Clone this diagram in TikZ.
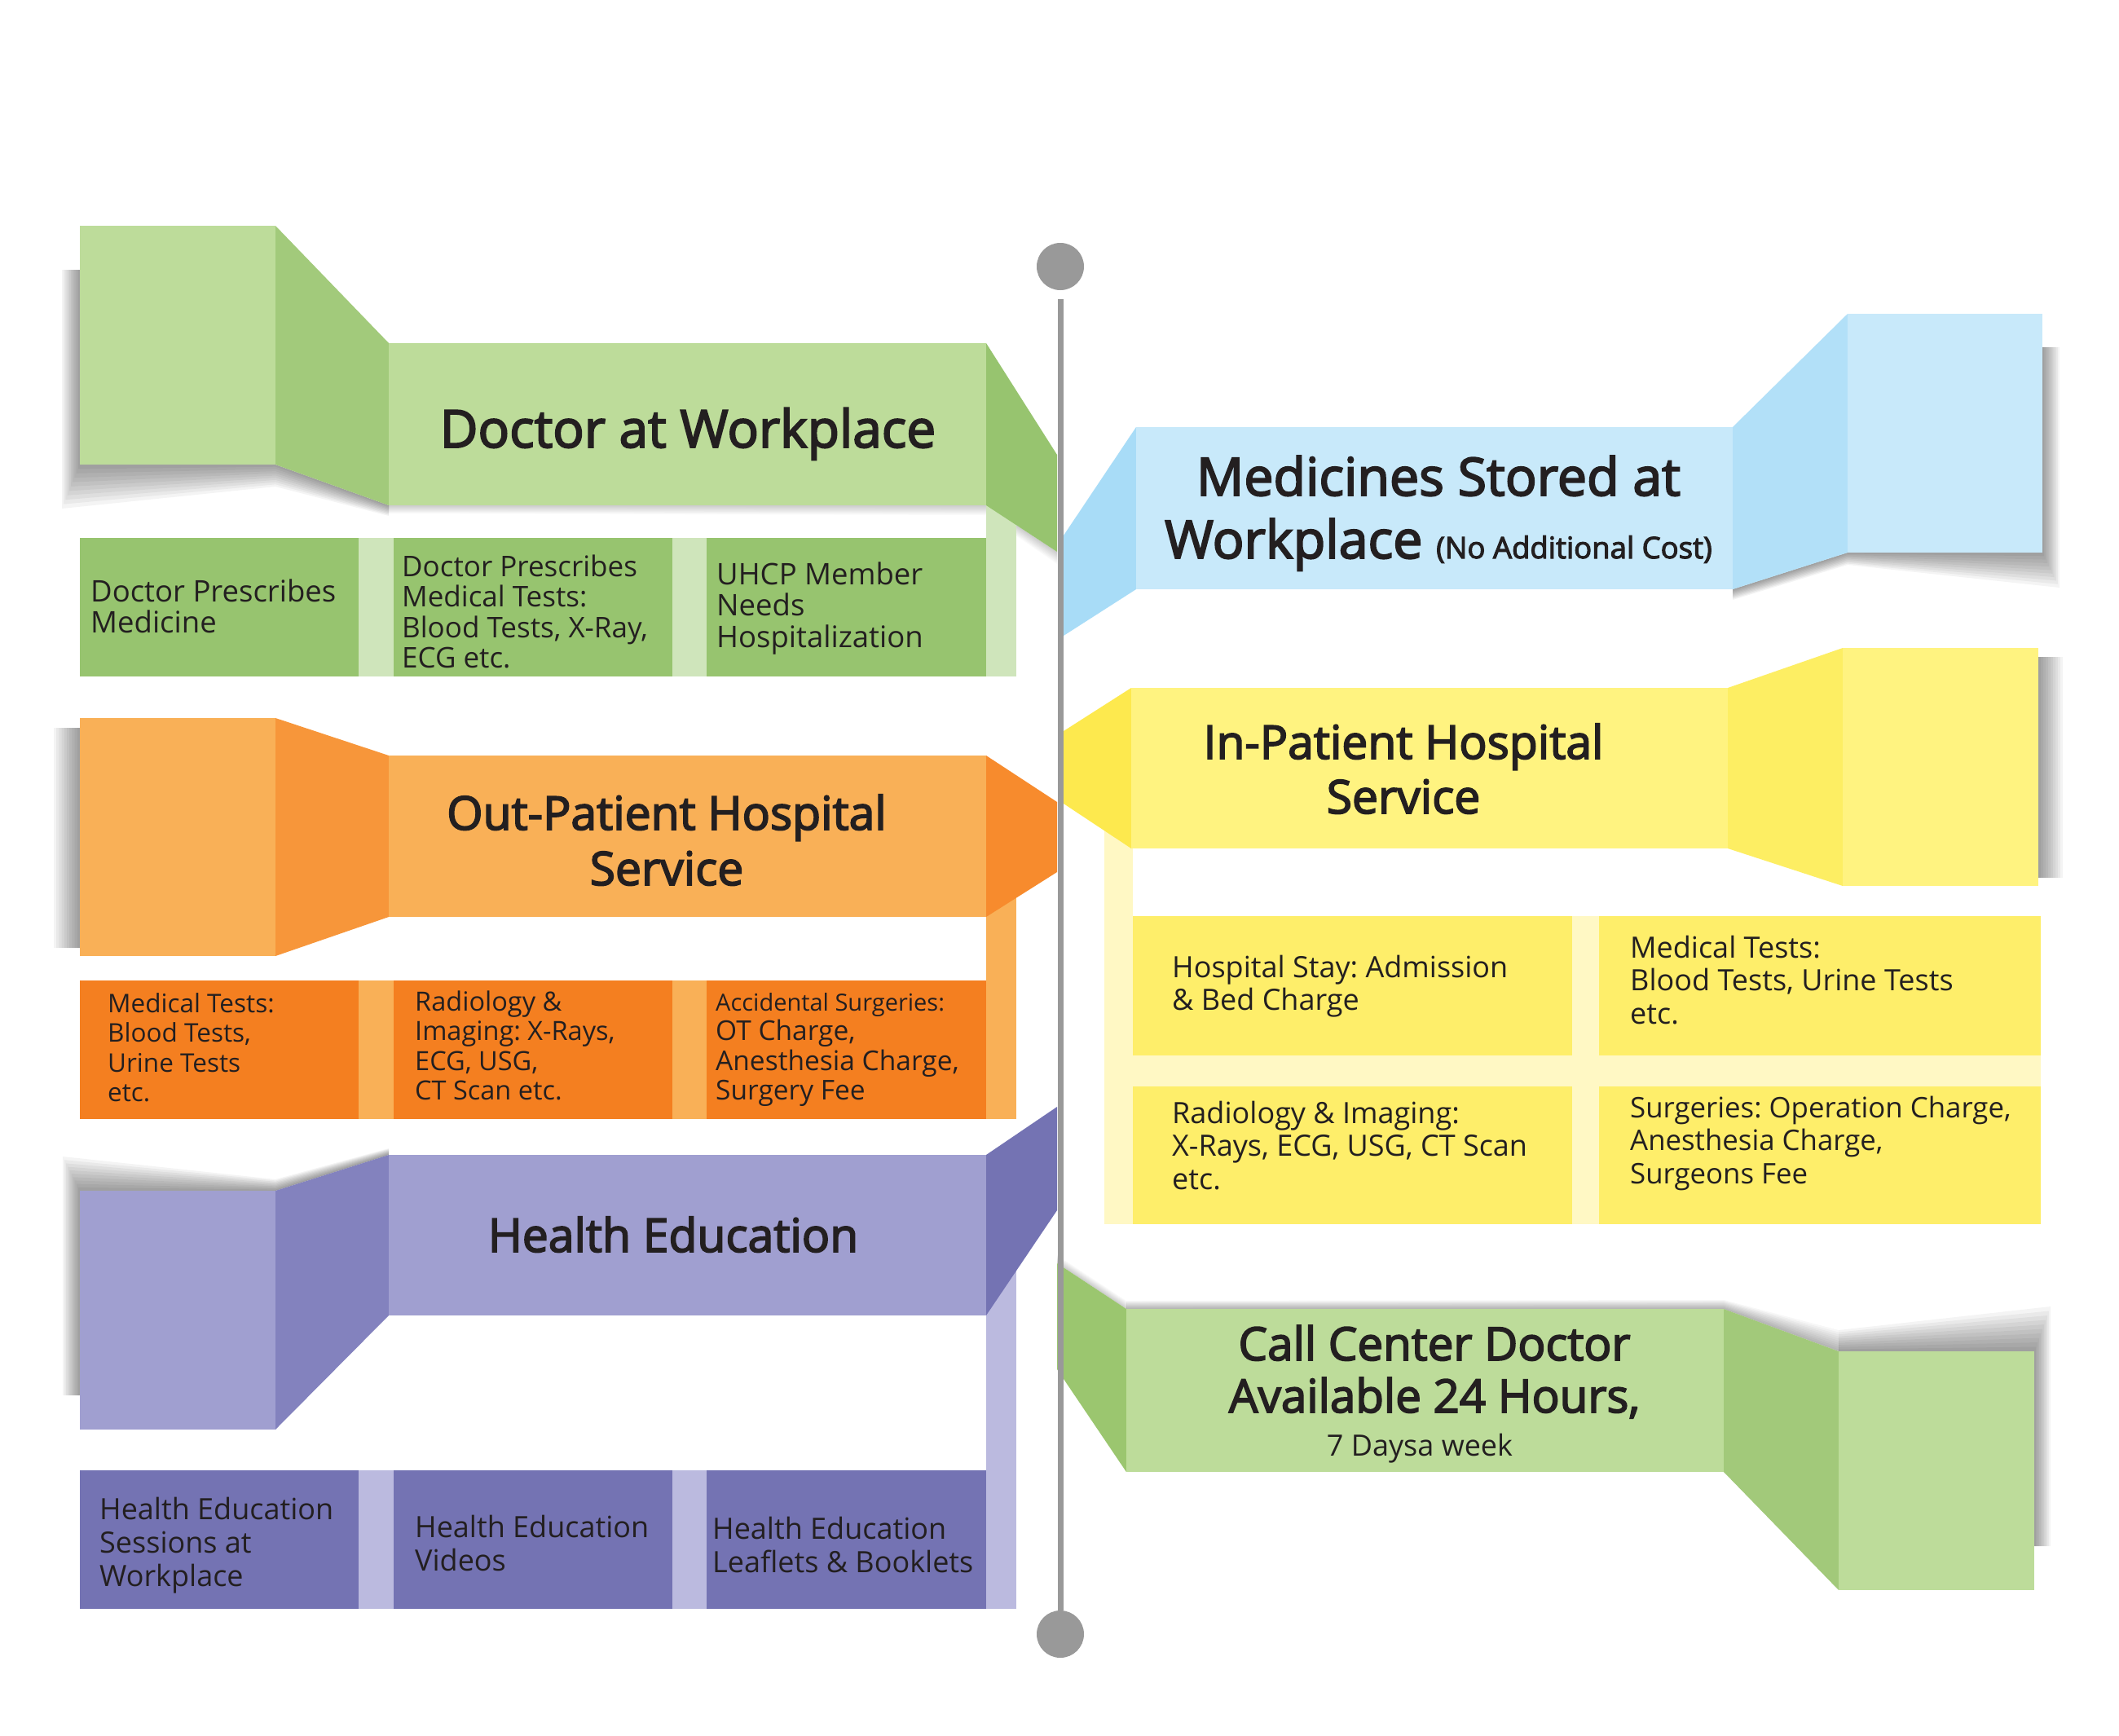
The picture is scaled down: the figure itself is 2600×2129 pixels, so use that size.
\documentclass[tikz,border=0pt]{standalone}
\usepackage{fontspec}
\setmainfont{Open Sans}
\newfontfamily\titlefont{Open Sans}[FakeBold=3]
\usetikzlibrary{calc}
\frenchspacing

% palette
\definecolor{ink}{HTML}{231F20}
\definecolor{poleGray}{HTML}{999999}
\definecolor{gLight}{HTML}{BDDC9A}
\definecolor{gFold}{HTML}{A2CA7B}
\definecolor{gEdge}{HTML}{97C46F}
\definecolor{gBox}{HTML}{97C46F}
\definecolor{gBand}{HTML}{CFE5BB}
\definecolor{bLight}{HTML}{C8E9FA}
\definecolor{bFoldA}{HTML}{A8DCF7}
\definecolor{bFoldB}{HTML}{B2E0F8}
\definecolor{oLight}{HTML}{F9B057}
\definecolor{oFold}{HTML}{F7963A}
\definecolor{oEdge}{HTML}{F78B2D}
\definecolor{oBox}{HTML}{F47F20}
\definecolor{yLight}{HTML}{FFF380}
\definecolor{yFoldA}{HTML}{FDE94E}
\definecolor{yFoldB}{HTML}{FDEE63}
\definecolor{yBox}{HTML}{FEEE6A}
\definecolor{yBand}{HTML}{FFF8C4}
\definecolor{pLight}{HTML}{A09FD0}
\definecolor{pFold}{HTML}{8382BE}
\definecolor{pEdge}{HTML}{7473B3}
\definecolor{pBox}{HTML}{7473B3}
\definecolor{pBand}{HTML}{BBBADF}
\definecolor{cFoldA}{HTML}{9BC66F}
\definecolor{cFoldB}{HTML}{A2C97A}

\newcommand\fsz[2]{\fontsize{#1}{#2}\selectfont}
\newcommand\stackof[2]{\begin{tabular}[t]{@{}#1@{}}#2\end{tabular}}
% soft drop shadow: band between an inner edge (#1..#4) and an outer edge (#5..#8),
% built from stacked translucent layers so it fades outwards
\newcommand\softshadow[9]{%
  \foreach \t in {0.1,0.2,...,1.0}{%
    \fill[black,fill opacity=#9] (#1) -- (#2) -- (#3) -- (#4)
      -- ($(#4)!\t!(#8)$) -- ($(#3)!\t!(#7)$) -- ($(#2)!\t!(#6)$) -- ($(#1)!\t!(#5)$) -- cycle;}}

\begin{document}
\begin{tikzpicture}[x=1pt,y=-1pt,
  title/.style={anchor=base, inner sep=0pt, text=ink, font=\titlefont},
  item/.style={anchor=base west, inner sep=0pt, text=ink},
  ball/.style={circle, fill=poleGray, inner sep=0pt, minimum size=58pt},
  polestroke/.style={draw=poleGray, line width=7pt}]
\useasboundingbox[fill=white] (0,0) rectangle (2600,2129);

% ---------- soft shadows ----------
\softshadow{98,331}{98,570}{338,570}{477,620}{76,331}{76,624}{338,597}{477,633}{0.045}
\softshadow{477,620}{1210,620}{1297,677}{1297,677}{477,630}{1210,632}{1297,692}{1297,692}{0.02}
\softshadow{2506,426}{2506,678}{2267,678}{2126,723}{2527,426}{2527,721}{2267,693}{2126,736}{0.045}
\softshadow{2501,806}{2501,806}{2501,1077}{2501,1077}{2531,806}{2531,806}{2531,1077}{2531,1077}{0.045}
\softshadow{98,893}{98,893}{98,1163}{98,1163}{66,893}{66,893}{66,1163}{66,1163}{0.045}
\softshadow{477,1417}{338,1461}{98,1461}{98,1712}{477,1409}{338,1447}{77,1419}{77,1712}{0.045}
\softshadow{1382,1606}{2115,1606}{2256,1658}{2256,1658}{1382,1596}{2115,1595}{2256,1632}{2256,1632}{0.03}
\softshadow{2256,1658}{2496,1658}{2496,1897}{2496,1897}{2256,1632}{2516,1603}{2516,1897}{2516,1897}{0.045}
\softshadow{1297,1550}{1297,1550}{1382,1606}{1382,1606}{1297,1540}{1297,1540}{1382,1596}{1382,1596}{0.02}

% ---------- Doctor at Workplace ----------
\fill[gLight] (98,277) rectangle (338,570);
\fill[gFold] (338,277) -- (477,421) -- (477,620) -- (338,570) -- cycle;
\fill[gLight] (477,421) rectangle (1210,620);
\fill[gBand] (1210,600) rectangle (1247,830);
\fill[gBand] (440,660) rectangle (1247,830);
\fill[gEdge] (1210,421) -- (1297,558) -- (1297,677) -- (1210,620) -- cycle;
\fill[gBox] (98,660) rectangle (440,830);
\fill[gBox] (483,660) rectangle (825,830);
\fill[gBox] (867,660) rectangle (1210,830);

% ---------- Medicines Stored at Workplace ----------
\fill[bFoldA] (1305,657) -- (1394,524) -- (1394,723) -- (1305,780) -- cycle;
\fill[bLight] (1394,524) rectangle (2126,723);
\fill[bFoldB] (2126,524) -- (2267,385) -- (2267,678) -- (2126,723) -- cycle;
\fill[bLight] (2267,385) rectangle (2506,678);

% ---------- Out-Patient Hospital Service ----------
\fill[oLight] (98,881) rectangle (338,1173);
\fill[oFold] (338,881) -- (477,927) -- (477,1125) -- (338,1173) -- cycle;
\fill[oLight] (477,927) rectangle (1210,1125);
\fill[oLight] (1210,1090) rectangle (1247,1373);
\fill[oLight] (440,1203) rectangle (1247,1373);
\fill[oEdge] (1210,927) -- (1297,984) -- (1297,1070) -- (1210,1125) -- cycle;
\fill[oBox] (98,1203) rectangle (440,1373);
\fill[oBox] (483,1203) rectangle (825,1373);
\fill[oBox] (867,1203) rectangle (1210,1373);

% ---------- In-Patient Hospital Service ----------
\fill[yBand] (1355,1010) rectangle (1390,1502);
\fill[yBand] (1390,1124) rectangle (2504,1502);
\fill[yFoldA] (1305,897) -- (1388,844) -- (1388,1041) -- (1305,986) -- cycle;
\fill[yLight] (1388,844) rectangle (2120,1041);
\fill[yFoldB] (2120,844) -- (2261,795) -- (2261,1087) -- (2120,1041) -- cycle;
\fill[yLight] (2261,795) rectangle (2501,1087);
\fill[yBox] (1390,1124) rectangle (1929,1295);
\fill[yBox] (1962,1124) rectangle (2504,1295);
\fill[yBox] (1390,1333) rectangle (1929,1502);
\fill[yBox] (1962,1333) rectangle (2504,1502);

% ---------- Health Education ----------
\fill[pLight] (98,1461) rectangle (338,1754);
\fill[pFold] (338,1461) -- (477,1417) -- (477,1614) -- (338,1754) -- cycle;
\fill[pLight] (477,1417) rectangle (1210,1614);
\fill[pBand] (1210,1500) rectangle (1247,1974);
\fill[pBand] (440,1804) rectangle (1247,1974);
\fill[pEdge] (1210,1417) -- (1297,1358) -- (1297,1485) -- (1210,1614) -- cycle;
\fill[pBox] (98,1804) rectangle (440,1974);
\fill[pBox] (483,1804) rectangle (825,1974);
\fill[pBox] (867,1804) rectangle (1210,1974);

% ---------- Call Center Doctor ----------
\fill[cFoldA] (1297,1550) -- (1382,1606) -- (1382,1806) -- (1297,1680) -- cycle;
\fill[gLight] (1382,1606) rectangle (2115,1806);
\fill[cFoldB] (2115,1606) -- (2256,1658) -- (2256,1951) -- (2115,1806) -- cycle;
\fill[gLight] (2256,1658) rectangle (2496,1951);

% ---------- central pole ----------
\node[ball] (topball) at (1301,327) {};
\node[ball] (botball) at (1301,2005) {};
\coordinate (poletop) at (1301,367);
\draw[polestroke] (poletop) -- (botball.north);

% ---------- headings ----------
\node[title] (hDoc) at (844,549) {\fsz{64}{76}Doctor at Workplace};
\node[title] (hMed) at (1765,608) {\fsz{64.5}{77}\stackof{c}{Medicines Stored at\\Workplace {\fsz{36.5}{40}(No Additional Cost)}}};
\node[title] (hOut) at (818,1018) {\fsz{57}{68}\stackof{c}{Out-Patient Hospital\\Service}};
\node[title] (hIn) at (1722,931) {\fsz{57}{67}\stackof{c}{In-Patient Hospital\\Service}};
\node[title] (hEdu) at (826,1536) {\fsz{57}{66}Health Education};
\node[title] (hCall) at (1760,1669) {\fsz{56.5}{64}\stackof{c}{Call Center Doctor\\Available 24 Hours,}};
\node[anchor=base, inner sep=0pt, text=ink] (hDays) at (1742,1786) {\fsz{36}{40}7 Daysa week};

% ---------- green row ----------
\node[item] (g1) at (111,738) {\fsz{36.5}{37}\stackof{l}{Doctor Prescribes\\Medicine}};
\node[item] (g2) at (493,707) {\fsz{35}{37}\stackof{l}{Doctor Prescribes\\Medical Tests:\\Blood Tests, X-Ray,\\ECG etc.}};
\node[item] (g3) at (879,717) {\fsz{36.5}{37}\stackof{l}{UHCP Member\\Needs\\Hospitalization}};

% ---------- orange row ----------
\node[item] (o1) at (132,1242) {\fsz{31.5}{36.5}\stackof{l}{Medical Tests:\\Blood Tests,\\Urine Tests\\etc.}};
\node[item] (o2) at (509,1240) {\fsz{32.5}{36.5}\stackof{l}{Radiology \&\\Imaging: X-Rays,\\ECG, USG,\\CT Scan etc.}};
\node[item] (o3) at (878,1240) {\fsz{33.5}{36.5}\stackof{l}{{\fsz{29}{36.5}Accidental Surgeries:}\\OT Charge,\\Anesthesia Charge,\\Surgery Fee}};

% ---------- yellow grid ----------
\node[item] (y1) at (1438,1199) {\fsz{36}{40.5}\stackof{l}{Hospital Stay: Admission\\\& Bed Charge}};
\node[item] (y2) at (2000,1175) {\fsz{36}{40.5}\stackof{l}{Medical Tests:\\Blood Tests, Urine Tests\\etc.}};
\node[item] (y3) at (1438,1378) {\fsz{36}{40.5}\stackof{l}{Radiology \& Imaging:\\X-Rays, ECG, USG, CT Scan\\etc.}};
\node[item] (y4) at (2000,1371) {\fsz{34.8}{40.5}\stackof{l}{Surgeries: Operation Charge,\\Anesthesia Charge,\\Surgeons Fee}};

% ---------- purple row ----------
\node[item] (p1) at (122,1864) {\fsz{36}{41}\stackof{l}{Health Education\\Sessions at\\Workplace}};
\node[item] (p2) at (509,1886) {\fsz{36}{41}\stackof{l}{Health Education\\Videos}};
\node[item] (p3) at (874,1888) {\fsz{36}{41}\stackof{l}{Health Education\\Leaflets \& Booklets}};
\end{tikzpicture}
\end{document}
